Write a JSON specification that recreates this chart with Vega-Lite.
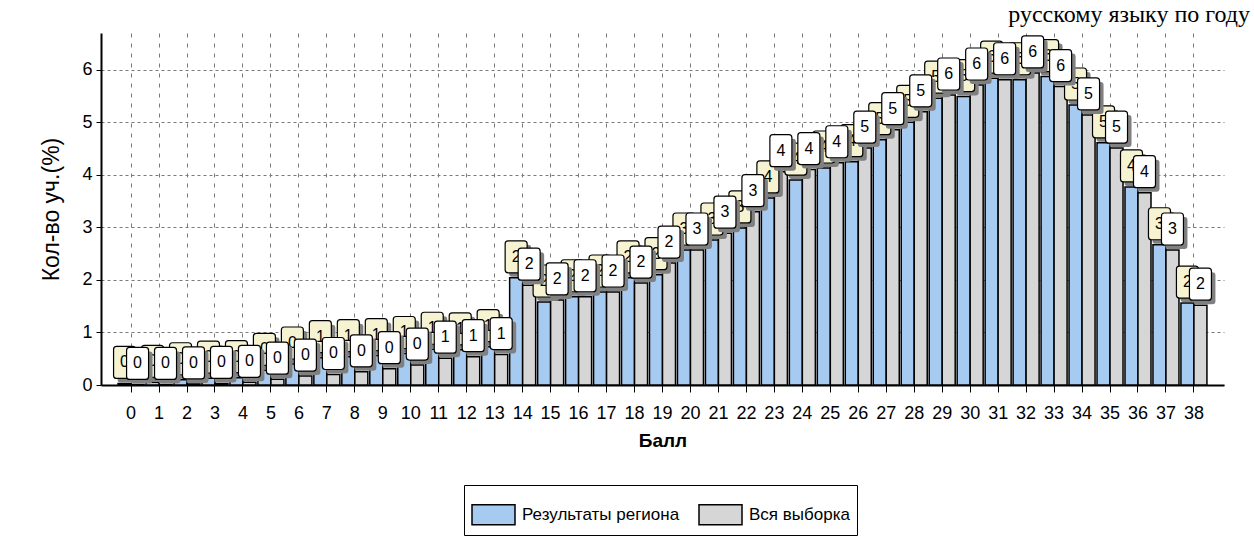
{
  "$schema": "https://vega.github.io/schema/vega-lite/v6.json",
  "width": 1123,
  "height": 352,
  "autosize": "none",
  "padding": {"left": 101, "top": 33, "right": 30, "bottom": 168},
  "background": "white",
  "title": {
    "text": "русскому языку по году",
    "anchor": "end",
    "frame": "group",
    "font": "Liberation Serif",
    "fontSize": 24,
    "fontWeight": "normal",
    "baseline": "alphabetic",
    "offset": 0,
    "dy": 13,
    "dx": 26,
    "color": "black"
  },
  "config": {
    "view": {"stroke": null},
    "font": "Liberation Sans"
  },
  "data": {
    "values": [
      {"score": 0, "series": "Результаты региона", "value": 0.03},
      {"score": 1, "series": "Результаты региона", "value": 0.05},
      {"score": 2, "series": "Результаты региона", "value": 0.1},
      {"score": 3, "series": "Результаты региона", "value": 0.13},
      {"score": 4, "series": "Результаты региона", "value": 0.14},
      {"score": 5, "series": "Результаты региона", "value": 0.28},
      {"score": 6, "series": "Результаты региона", "value": 0.4},
      {"score": 7, "series": "Результаты региона", "value": 0.52},
      {"score": 8, "series": "Результаты региона", "value": 0.54},
      {"score": 9, "series": "Результаты региона", "value": 0.56},
      {"score": 10, "series": "Результаты региона", "value": 0.6},
      {"score": 11, "series": "Результаты региона", "value": 0.68},
      {"score": 12, "series": "Результаты региона", "value": 0.67},
      {"score": 13, "series": "Результаты региона", "value": 0.73},
      {"score": 14, "series": "Результаты региона", "value": 2.04},
      {"score": 15, "series": "Результаты региона", "value": 1.58},
      {"score": 16, "series": "Результаты региона", "value": 1.68},
      {"score": 17, "series": "Результаты региона", "value": 1.77},
      {"score": 18, "series": "Результаты региона", "value": 2.04},
      {"score": 19, "series": "Результаты региона", "value": 2.1},
      {"score": 20, "series": "Результаты региона", "value": 2.57},
      {"score": 21, "series": "Результаты региона", "value": 2.76},
      {"score": 22, "series": "Результаты региона", "value": 2.99},
      {"score": 23, "series": "Результаты региона", "value": 3.56},
      {"score": 24, "series": "Результаты региона", "value": 3.9},
      {"score": 25, "series": "Результаты региона", "value": 4.13},
      {"score": 26, "series": "Результаты региона", "value": 4.25},
      {"score": 27, "series": "Результаты региона", "value": 4.67},
      {"score": 28, "series": "Результаты региона", "value": 5.0},
      {"score": 29, "series": "Результаты региона", "value": 5.46},
      {"score": 30, "series": "Результаты региона", "value": 5.49},
      {"score": 31, "series": "Результаты региона", "value": 5.84},
      {"score": 32, "series": "Результаты региона", "value": 5.81},
      {"score": 33, "series": "Результаты региона", "value": 5.87},
      {"score": 34, "series": "Результаты региона", "value": 5.33},
      {"score": 35, "series": "Результаты региона", "value": 4.61},
      {"score": 36, "series": "Результаты региона", "value": 3.77},
      {"score": 37, "series": "Результаты региона", "value": 2.67},
      {"score": 38, "series": "Результаты региона", "value": 1.56},
      {"score": 0, "series": "Вся выборка", "value": 0.01},
      {"score": 1, "series": "Вся выборка", "value": 0.01},
      {"score": 2, "series": "Вся выборка", "value": 0.02},
      {"score": 3, "series": "Вся выборка", "value": 0.03},
      {"score": 4, "series": "Вся выборка", "value": 0.05},
      {"score": 5, "series": "Вся выборка", "value": 0.11},
      {"score": 6, "series": "Вся выборка", "value": 0.17},
      {"score": 7, "series": "Вся выборка", "value": 0.2},
      {"score": 8, "series": "Вся выборка", "value": 0.25},
      {"score": 9, "series": "Вся выборка", "value": 0.31},
      {"score": 10, "series": "Вся выборка", "value": 0.38},
      {"score": 11, "series": "Вся выборка", "value": 0.51},
      {"score": 12, "series": "Вся выборка", "value": 0.54},
      {"score": 13, "series": "Вся выборка", "value": 0.58},
      {"score": 14, "series": "Вся выборка", "value": 1.9},
      {"score": 15, "series": "Вся выборка", "value": 1.62},
      {"score": 16, "series": "Вся выборка", "value": 1.68},
      {"score": 17, "series": "Вся выборка", "value": 1.77},
      {"score": 18, "series": "Вся выборка", "value": 1.94},
      {"score": 19, "series": "Вся выборка", "value": 2.32},
      {"score": 20, "series": "Вся выборка", "value": 2.57},
      {"score": 21, "series": "Вся выборка", "value": 2.89},
      {"score": 22, "series": "Вся выборка", "value": 3.3},
      {"score": 23, "series": "Вся выборка", "value": 4.06},
      {"score": 24, "series": "Вся выборка", "value": 4.1},
      {"score": 25, "series": "Вся выборка", "value": 4.23},
      {"score": 26, "series": "Вся выборка", "value": 4.51},
      {"score": 27, "series": "Вся выборка", "value": 4.86},
      {"score": 28, "series": "Вся выборка", "value": 5.2},
      {"score": 29, "series": "Вся выборка", "value": 5.52},
      {"score": 30, "series": "Вся выборка", "value": 5.71},
      {"score": 31, "series": "Вся выборка", "value": 5.81},
      {"score": 32, "series": "Вся выборка", "value": 5.94},
      {"score": 33, "series": "Вся выборка", "value": 5.68},
      {"score": 34, "series": "Вся выборка", "value": 5.14},
      {"score": 35, "series": "Вся выборка", "value": 4.51},
      {"score": 36, "series": "Вся выборка", "value": 3.66},
      {"score": 37, "series": "Вся выборка", "value": 2.57},
      {"score": 38, "series": "Вся выборка", "value": 1.52}
    ]
  },
  "encoding": {
    "x": {
      "field": "score",
      "type": "ordinal",
      "title": "Балл",
      "scale": {"paddingInner": 0.07, "paddingOuter": 0.61},
      "axis": {
        "labelAngle": 0,
        "labelFontSize": 18,
        "labelColor": "black",
        "labelPadding": 12,
        "domainColor": "black",
        "domainWidth": 2,
        "tickColor": "black",
        "tickSize": 7,
        "tickWidth": 1,
        "bandPosition": 0.5,
        "grid": true,
        "gridColor": "#7a7a7a",
        "gridDash": [4, 6],
        "gridWidth": 1,
        "titleFontSize": 19,
        "titleFontWeight": "bold",
        "titleColor": "black",
        "titlePadding": 9
      }
    },
    "y": {
      "field": "value",
      "type": "quantitative",
      "title": "Кол-во уч.(%)",
      "scale": {"domain": [0, 6.7], "nice": false},
      "axis": {
        "values": [0, 1, 2, 3, 4, 5, 6],
        "labelFontSize": 18,
        "labelColor": "black",
        "labelPadding": 4,
        "domainColor": "black",
        "domainWidth": 2,
        "tickColor": "black",
        "tickSize": 5,
        "grid": true,
        "gridColor": "#7a7a7a",
        "gridDash": [3, 3],
        "gridWidth": 1,
        "titleFontSize": 23,
        "titleFontWeight": "normal",
        "titleColor": "black",
        "titlePadding": 18
      }
    },
    "xOffset": {
      "field": "series",
      "type": "nominal",
      "scale": {"domain": ["Результаты региона", "Вся выборка"], "paddingInner": 0, "paddingOuter": 0}
    }
  },
  "layer": [
    {
      "mark": {"type": "bar", "stroke": "black", "strokeWidth": 1.5},
      "encoding": {
        "color": {
          "field": "series",
          "type": "nominal",
          "scale": {"domain": ["Результаты региона", "Вся выборка"], "range": ["#a6caf0", "#d6d6d6"]},
          "legend": {
            "orient": "none",
            "legendX": 363,
            "legendY": 452,
            "direction": "horizontal",
            "title": null,
            "gridAlign": "all",
            "columnPadding": 16,
            "padding": 7,
            "strokeColor": "black",
            "fillColor": "white",
            "symbolType": "M-1,-0.465 L1,-0.465 L1,0.465 L-1,0.465 Z",
            "symbolSize": 1849,
            "symbolStrokeColor": "black",
            "symbolStrokeWidth": 1.5,
            "symbolOpacity": 1,
            "labelFontSize": 17,
            "labelColor": "black",
            "labelOffset": 6,
            "labelLimit": 300
          }
        }
      }
    },
    {
      "transform": [{"filter": "datum.series === 'Результаты региона'"}],
      "mark": {"type": "point", "filled": true, "fill": "#808080", "opacity": 1, "strokeWidth": 0, "size": 1024, "yOffset": -21,
        "shape": "M-0.25,-0.75 L0.75,-0.75 Q0.9375,-0.75 0.9375,-0.5625 L0.9375,1.0625 Q0.9375,1.25 0.75,1.25 L-0.25,1.25 Q-0.4375,1.25 -0.4375,1.0625 L-0.4375,-0.5625 Q-0.4375,-0.75 -0.25,-0.75 Z"}
    },
    {
      "transform": [{"filter": "datum.series === 'Результаты региона'"}],
      "mark": {"type": "point", "filled": true, "fill": "#f6f3d2", "stroke": "black", "strokeWidth": 1.2, "opacity": 1, "size": 1024, "yOffset": -21,
        "shape": "M-0.5,-1 L0.5,-1 Q0.6875,-1 0.6875,-0.8125 L0.6875,0.8125 Q0.6875,1 0.5,1 L-0.5,1 Q-0.6875,1 -0.6875,0.8125 L-0.6875,-0.8125 Q-0.6875,-1 -0.5,-1 Z"}
    },
    {
      "transform": [{"filter": "datum.series === 'Результаты региона'"}],
      "mark": {"type": "text", "fontSize": 16, "color": "black", "baseline": "middle", "align": "center", "yOffset": -21},
      "encoding": {"text": {"field": "value", "type": "quantitative", "format": ".0f"}}
    },
    {
      "transform": [{"filter": "datum.series === 'Вся выборка'"}],
      "mark": {"type": "point", "filled": true, "fill": "#808080", "opacity": 1, "strokeWidth": 0, "size": 1024, "yOffset": -21,
        "shape": "M-0.25,-0.75 L0.75,-0.75 Q0.9375,-0.75 0.9375,-0.5625 L0.9375,1.0625 Q0.9375,1.25 0.75,1.25 L-0.25,1.25 Q-0.4375,1.25 -0.4375,1.0625 L-0.4375,-0.5625 Q-0.4375,-0.75 -0.25,-0.75 Z"}
    },
    {
      "transform": [{"filter": "datum.series === 'Вся выборка'"}],
      "mark": {"type": "point", "filled": true, "fill": "white", "stroke": "black", "strokeWidth": 1.2, "opacity": 1, "size": 1024, "yOffset": -21,
        "shape": "M-0.5,-1 L0.5,-1 Q0.6875,-1 0.6875,-0.8125 L0.6875,0.8125 Q0.6875,1 0.5,1 L-0.5,1 Q-0.6875,1 -0.6875,0.8125 L-0.6875,-0.8125 Q-0.6875,-1 -0.5,-1 Z"}
    },
    {
      "transform": [{"filter": "datum.series === 'Вся выборка'"}],
      "mark": {"type": "text", "fontSize": 16, "color": "black", "baseline": "middle", "align": "center", "yOffset": -21},
      "encoding": {"text": {"field": "value", "type": "quantitative", "format": ".0f"}}
    }
  ]
}
